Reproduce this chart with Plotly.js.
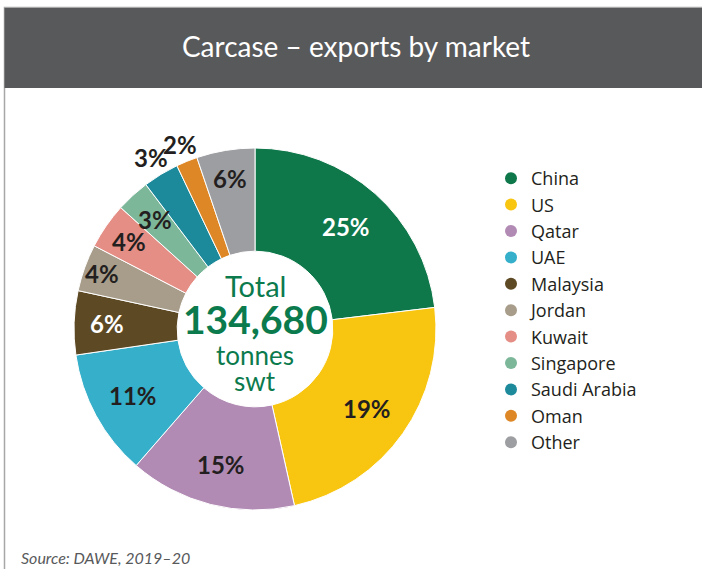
<!DOCTYPE html>
<html>
<head>
<meta charset="utf-8">
<script src="https://cdn.plot.ly/plotly-3.0.1.min.js"></script>
<style>
  html, body { margin: 0; padding: 0; background: #ffffff; }
  #chart { width: 702px; height: 569px; }
</style>
</head>
<body>
<div id="chart"></div>
<script>
// ---- data ----
const markets = ['China', 'US', 'Qatar', 'UAE', 'Malaysia', 'Jordan', 'Kuwait', 'Singapore', 'Saudi Arabia', 'Oman', 'Other'];
// slice shares as drawn in the reference (per cent of total)
const shares = [23.1, 23.4, 14.9, 11.3, 5.7, 4.2, 4.1, 3.0, 3.2, 1.9, 5.2];
// percentage labels as printed on the reference
const pctLabels = ['25%', '19%', '15%', '11%', '6%', '4%', '4%', '3%', '3%', '2%', '6%'];
const totalTonnes = '134,680';

// ---- style ----
const colors = ['#0f784b', '#f8c511', '#b28bb5', '#35afca', '#5d4a24', '#a89d8a', '#e58e85', '#7db79a', '#1d8a9c', '#de8726', '#9d9ea1'];
const labelColors = ['#ffffff', '#231f20', '#231f20', '#231f20', '#ffffff', '#231f20', '#231f20', '#231f20', '#231f20', '#231f20', '#231f20'];
const labelRadius = [0.76, 0.76, 0.77, 0.77, 0.82, 0.90, 0.85, 0.82, 1.11, 1.10, 0.84];

const W = 702, H = 569;
const cx = 255, cy = 329, R = 181;
const green = '#0b7a4d';
const FONT = 'Lato, "Open Sans", sans-serif';

const pie = {
  type: 'pie',
  labels: markets,
  values: shares,
  sort: false,
  direction: 'clockwise',
  rotation: 0,
  hole: 0.43,
  marker: { colors: colors, line: { color: '#ffffff', width: 1 } },
  textinfo: 'none',
  hoverinfo: 'label+percent',
  showlegend: false,
  domain: { x: [(cx - R) / W, (cx + R) / W], y: [1 - (cy + R) / H, 1 - (cy - R) / H] }
};

// legend entries with round markers
const legendTraces = markets.map((m, i) => ({
  type: 'scatter', mode: 'markers', x: [null], y: [null], name: m,
  marker: { color: colors[i], size: 17, symbol: 'circle' },
  showlegend: true, hoverinfo: 'skip'
}));

// percentage labels placed at each slice's mid-angle (computed from data)
const total = shares.reduce((a, b) => a + b, 0);
let cum = 0;
const annotations = [];
shares.forEach((v, i) => {
  const mid = (cum + v / 2) / total * 2 * Math.PI;
  cum += v;
  const r = R * labelRadius[i];
  const px = cx + r * Math.sin(mid);
  const py = cy - r * Math.cos(mid);
  annotations.push({
    xref: 'paper', yref: 'paper', x: px / W, y: 1 - py / H,
    xanchor: 'center', yanchor: 'middle', showarrow: false,
    text: '<b>' + pctLabels[i] + '</b>',
    font: { family: FONT, size: 24, color: labelColors[i] }
  });
});

// centre text
const centreLines = [
  { t: 'Total', dy: -44, size: 29, bold: false },
  { t: totalTonnes, dy: -10, size: 39, bold: true },
  { t: 'tonnes', dy: 26, size: 26, bold: false },
  { t: 'swt', dy: 52, size: 26, bold: false }
];
centreLines.forEach(l => {
  annotations.push({
    xref: 'paper', yref: 'paper', x: cx / W, y: 1 - (cy + l.dy) / H,
    xanchor: 'center', yanchor: 'middle', showarrow: false,
    text: l.bold ? '<b>' + l.t + '</b>' : l.t,
    font: { family: FONT, size: l.size, color: green }
  });
});

// source
annotations.push({
  xref: 'paper', yref: 'paper', x: 19 / W, y: 1 - 557 / H,
  xanchor: 'left', yanchor: 'middle', showarrow: false,
  text: '<i>Source: DAWE, 2019–20</i>',
  font: { family: FONT, size: 16, color: '#58595b' }
});

const layout = {
  width: W, height: H,
  margin: { l: 0, r: 0, t: 0, b: 0 },
  paper_bgcolor: '#ffffff', plot_bgcolor: '#ffffff',
  xaxis: { visible: false, domain: [0.99, 1] },
  yaxis: { visible: false, domain: [0.99, 1] },
  title: {
    text: 'Carcase – exports by market',
    font: { family: FONT, size: 28, color: '#ffffff' },
    x: 356 / W, xanchor: 'center', y: 1 - 47 / H, yanchor: 'middle'
  },
  shapes: [
    { type: 'rect', xref: 'paper', yref: 'paper', x0: 4.5 / W, x1: 1.02, y0: -0.02, y1: 1 - 7.5 / H,
      line: { color: '#a7a7a7', width: 1.5 }, fillcolor: 'rgba(0,0,0,0)', layer: 'below' },
    { type: 'rect', xref: 'paper', yref: 'paper', x0: 4.5 / W, x1: 1.02, y0: 1 - 88 / H, y1: 1 - 8 / H,
      line: { width: 0 }, fillcolor: '#58595b', layer: 'below' }
  ],
  showlegend: true,
  legend: {
    x: 491 / W, xanchor: 'left', y: 1 - 160 / H, yanchor: 'top',
    font: { family: '"Open Sans", Lato, sans-serif', size: 18, color: '#231f20' },
    tracegroupgap: 0, itemsizing: 'constant', bgcolor: 'rgba(0,0,0,0)'
  },
  annotations: annotations
};

Plotly.newPlot('chart', [pie].concat(legendTraces), layout, { displayModeBar: false, staticPlot: true });
</script>
</body>
</html>
